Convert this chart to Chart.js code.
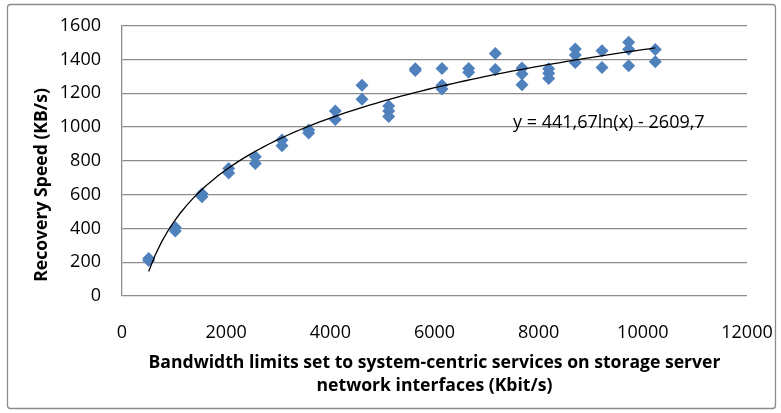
<!DOCTYPE html>
<html>
<head>
<meta charset="utf-8">
<script src="https://cdn.jsdelivr.net/npm/chart.js@4/dist/chart.umd.min.js"></script>
<style>
	html, body { margin: 0; padding: 0; background: #fff; }
</style>
</head>
<body>
<canvas id="chart-recovery-speed" width="781" height="413"></canvas>
<script>
// bandwidth limit levels (Kbit/s) and the measured recovery speeds at each level (KB/s)
const BANDWIDTH_LIMITS = [512, 1024, 1536, 2048, 2560, 3072, 3584, 4096, 4608, 5120,
	5632, 6144, 6656, 7168, 7680, 8192, 8704, 9216, 9728, 10240];
const RECOVERY_SPEED = [
	[222, 210], [405, 385], [605, 588], [755, 728], [824, 785],
	[923, 890], [982, 965], [1095, 1045], [1248, 1165], [1125, 1095, 1062],
	[1345, 1335], [1347, 1248, 1225], [1347, 1325], [1436, 1341], [1350, 1314, 1250],
	[1345, 1318, 1288], [1462, 1426, 1382], [1451, 1353], [1502, 1461, 1363], [1459, 1386],
];
const X_TICKS = [0, 2000, 4000, 6000, 8000, 10000, 12000];
const Y_TICKS = [0, 200, 400, 600, 800, 1000, 1200, 1400, 1600];

// logarithmic trendline as printed on the chart
const TREND_A = 441.67;
const TREND_B = -2609.7;
const TREND_LABEL = "y = 441,67ln(x) - 2609,7";

const X_TITLE = ["Bandwidth limits set to system-centric services on storage server", "network interfaces (Kbit/s)"];
const Y_TITLE = "Recovery Speed (KB/s)";

const FONT = "'Open Sans', sans-serif";
const GRID_COLOR = "#8c8c8c";
const MARKER_COLOR = "#4f81bd";

Chart.defaults.font.family = FONT;
Chart.defaults.color = "#000";

const points = [];
BANDWIDTH_LIMITS.forEach((bw, i) => {
	RECOVERY_SPEED[i].forEach((v) => points.push({ x: bw, y: v }));
});

// fitted curve, drawn like the spreadsheet does: sampled along the data range
const xMin = Math.min(...BANDWIDTH_LIMITS);
const xMax = Math.max(...BANDWIDTH_LIMITS);
const trend = [];
for (let i = 0; i <= 80; i++) {
	const x = xMin + (xMax - xMin) * i / 80;
	trend.push({ x, y: TREND_A * Math.log(x) + TREND_B });
}

// fixed axis boxes so the plot area sits where the original one does
const fixBox = (size) => (scale) => {
	if (scale.isHorizontal()) scale.height = size;
	else scale.width = size;
	scale.paddingLeft = scale.paddingRight = scale.paddingTop = scale.paddingBottom = 0;
};

const chartFrame = {
	id: "chartFrame",
	beforeDraw(chart) {
		const ctx = chart.ctx;
		ctx.save();
		ctx.fillStyle = "#fff";
		ctx.fillRect(0, 0, chart.width, chart.height);
		ctx.restore();
	},
	afterDraw(chart) {
		const ctx = chart.ctx;
		ctx.save();
		// outer border
		ctx.strokeStyle = GRID_COLOR;
		ctx.lineWidth = 1.3;
		ctx.beginPath();
		ctx.roundRect(7.5, 4.5, 768, 404, 3);
		ctx.stroke();
		// y axis title
		ctx.fillStyle = "#000";
		ctx.font = "bold 17.6px " + FONT;
		ctx.textAlign = "center";
		ctx.textBaseline = "middle";
		ctx.translate(42, 185);
		ctx.rotate(-Math.PI / 2);
		ctx.fillText(Y_TITLE, 0, 0);
		ctx.restore();
	},
	afterDatasetsDraw(chart) {
		const ctx = chart.ctx;
		ctx.save();
		ctx.fillStyle = "#000";
		ctx.font = "18px " + FONT;
		ctx.textAlign = "left";
		ctx.textBaseline = "middle";
		ctx.fillText(TREND_LABEL, 513, 123);
		ctx.restore();
	},
};

const CHART_CONFIG = {
	type: "scatter",
	data: {
		datasets: [
			{
				type: "line",
				label: "Trend",
				data: trend,
				borderColor: "#000",
				borderWidth: 1.3,
				pointRadius: 0,
				fill: false,
				order: 0,
			},
			{
				label: "Recovery speed",
				data: points,
				pointStyle: "rectRot",
				pointRadius: 6.5,
				backgroundColor: MARKER_COLOR,
				borderColor: MARKER_COLOR,
				borderWidth: 0,
				order: 1,
			},
		],
	},
	options: {
		responsive: false,
		animation: false,
		devicePixelRatio: 1,
		layout: {
			padding: { left: 0, right: 34, top: 25.7, bottom: 0 },
		},
		plugins: {
			legend: { display: false },
			tooltip: { enabled: false },
		},
		scales: {
			x: {
				type: "linear",
				min: 0,
				max: 12000,
				afterFit: fixBox(117),
				afterBuildTicks: (scale) => { scale.ticks = X_TICKS.map((v) => ({ value: v })); },
				border: { display: false },
				grid: { display: false },
				ticks: {
					font: { size: 18 },
					padding: 18.5,
					maxRotation: 0,
					callback: (value) => String(value),
				},
				title: {
					display: true,
					text: X_TITLE,
					font: { size: 17.6, weight: "bold", lineHeight: 1.307 },
					padding: { bottom: 15.5, top: 0 },
				},
			},
			y: {
				min: 0,
				max: 1600,
				afterFit: fixBox(122),
				afterBuildTicks: (scale) => { scale.ticks = Y_TICKS.map((v) => ({ value: v })); },
				border: { display: true, color: GRID_COLOR, width: 1.3 },
				grid: { color: GRID_COLOR, lineWidth: 1.3, drawTicks: false },
				ticks: {
					font: { size: 18 },
					padding: 21,
					callback: (value) => String(value),
				},
			},
		},
	},
	plugins: [chartFrame],
};

new Chart(document.getElementById("chart-recovery-speed"), CHART_CONFIG);
</script>
</body>
</html>
